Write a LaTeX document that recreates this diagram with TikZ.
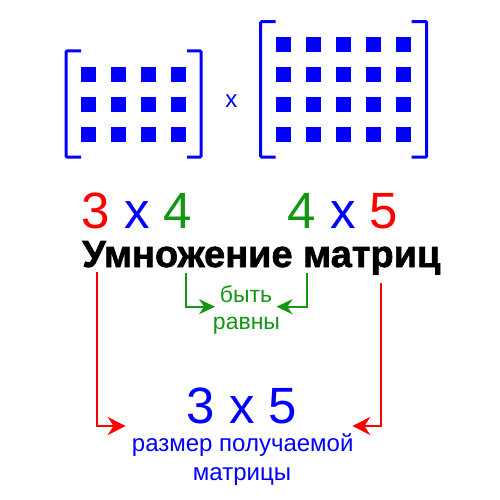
\documentclass[tikz,border=0pt]{standalone}
\usepackage{fontspec}
\setmainfont{Liberation Sans}
\newfontfamily\titlefnt{Liberation Sans}[BoldFeatures={FakeBold=1.6}]
\usetikzlibrary{arrows.meta}
\definecolor{grn}{RGB}{20,150,20}
\definecolor{rd}{RGB}{255,0,0}
\definecolor{bl}{RGB}{0,0,255}
\begin{document}
\begin{tikzpicture}[x=1pt,y=-1pt,
  sq/.style={fill=bl,draw=none,minimum size=15pt,inner sep=0pt},
  brk/.style={draw=bl,line width=3pt,rounded corners=1pt},
  bigdim/.style={anchor=base,inner sep=0pt,font=\fontsize{51}{51}\selectfont},
  small/.style={anchor=base,inner sep=0pt,font=\fontsize{23}{23}\selectfont,text=grn},
  note/.style={anchor=base,inner sep=0pt,font=\fontsize{24}{24}\selectfont,text=bl},
  redarr/.style={draw=rd,line width=2pt,-{Stealth[length=18pt,width=18pt]}},
  grnarr/.style={draw=grn,line width=2pt,-{Stealth[length=16pt,width=15pt]}}
]
\useasboundingbox (0,0) rectangle (500,500);
\fill[white] (0,0) rectangle (500,500);

% matrix A (3x4)
\foreach \i in {0,...,3}{\foreach \j in {0,...,2}{
  \node[sq] (a\i\j) at ({88.7+30*\i},{74.7+30*\j}) {};}}
\draw[brk] (81,51) -- (66,51) -- (66,157) -- (81,157);
\draw[brk] (187,51) -- (201,51) -- (201,157) -- (187,157);

\node[anchor=base,inner sep=0pt,text=bl,font=\fontsize{24}{24}\selectfont] (mx) at (231.4,107.3) {x};

% matrix B (4x5)
\foreach \i in {0,...,4}{\foreach \j in {0,...,3}{
  \node[sq] (b\i\j) at ({283.5+30*\i},{44.8+30*\j}) {};}}
\draw[brk] (275.7,21.7) -- (260.7,21.7) -- (260.7,157) -- (275.7,157);
\draw[brk] (411.7,21.7) -- (426.7,21.7) -- (426.7,157) -- (411.7,157);

% dimensions
\node[bigdim] (dimA) at (137,228) {\textcolor{rd}{3} \textcolor{bl}{x} \textcolor{grn}{4}};
\node[bigdim] (dimB) at (343,228) {\textcolor{grn}{4} \textcolor{bl}{x} \textcolor{rd}{5}};

% green arrows
\coordinate (gl0) at (186,273);
\coordinate (gl1) at (215,306.7);
\coordinate (gr0) at (306.7,273);
\coordinate (gr1) at (276.5,306.7);
\draw[grnarr] (gl0) |- (gl1);
\draw[grnarr] (gr0) |- (gr1);
\node[small] (byt) at (246,302) {быть};
\node[small] (ravn) at (246.5,329) {равны};

% red arrows
\coordinate (rl0) at (96.5,272);
\coordinate (rl1) at (125.7,426);
\coordinate (rr0) at (381,283);
\coordinate (rr1) at (352.3,426);
\draw[redarr] (rl0) |- (rl1);
\draw[redarr] (rr0) |- (rr1);

% result
\node[bigdim,text=bl] (res) at (242,423) {3 x 5};
\node[note] (sz1) at (242.7,451.5) {размер получаемой};
\node[note] (sz2) at (242,480) {матрицы};

% title
\node[anchor=base west,inner sep=0pt] (title) at (82,267)
  {\resizebox{358pt}{26pt}{\titlefnt\bfseries Умножение матриц}};
\end{tikzpicture}
\end{document}
